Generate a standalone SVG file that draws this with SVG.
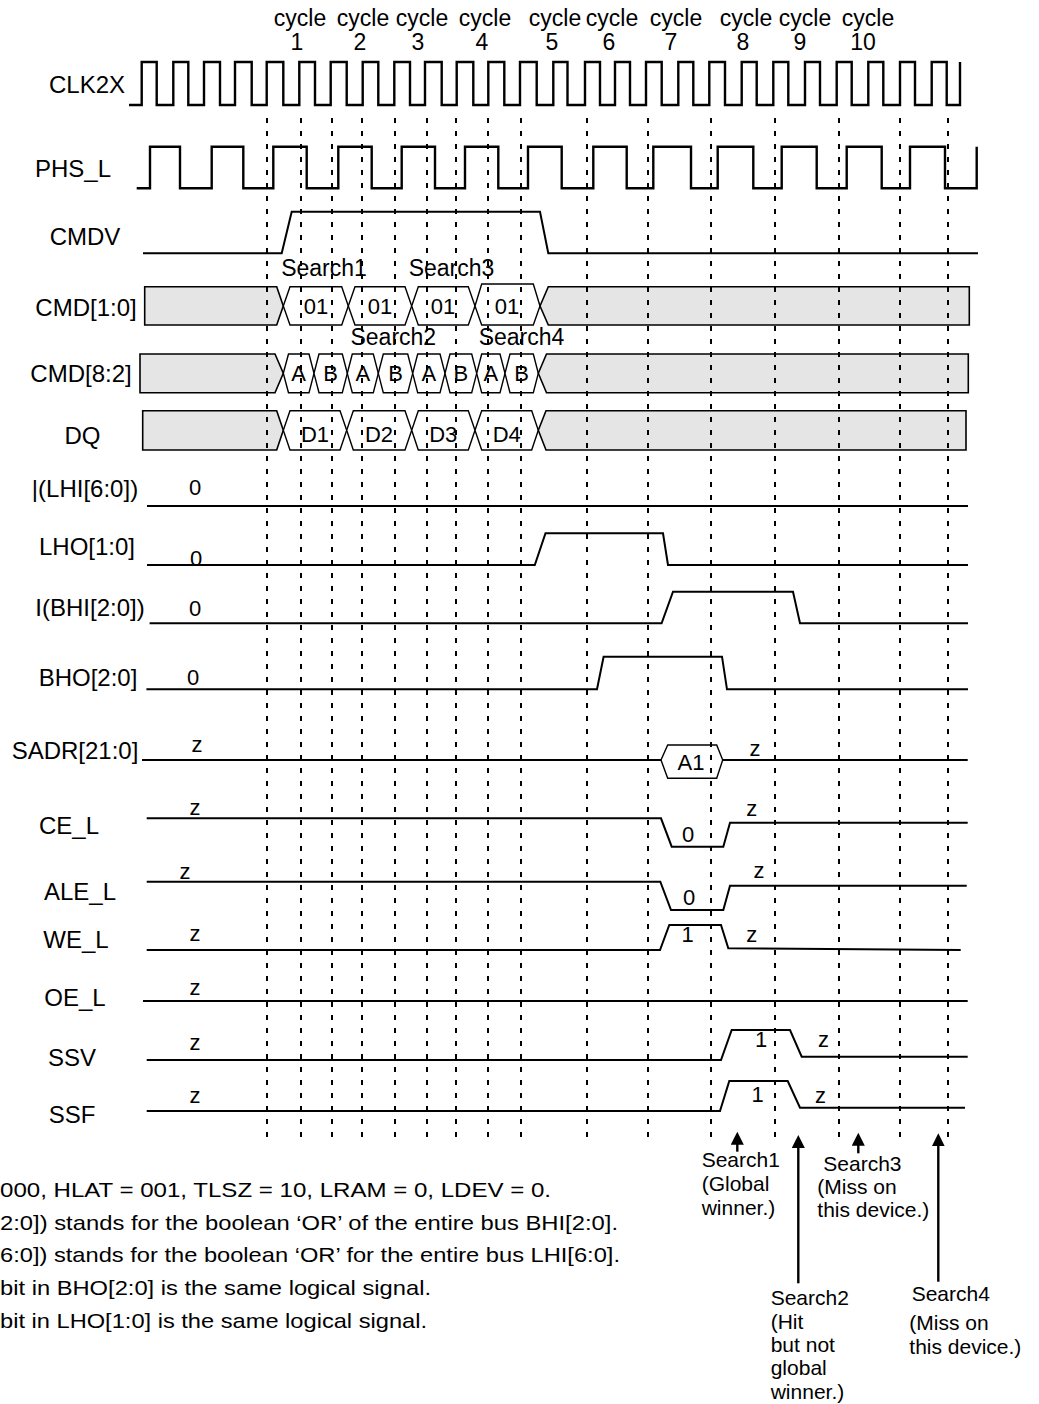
<svg xmlns="http://www.w3.org/2000/svg" width="1039" height="1404" viewBox="0 0 1039 1404">
<style>
text{font-family:"Liberation Sans",Arial,sans-serif;fill:#000}
.lbl{font-size:24px;text-anchor:middle}
.cy{font-size:23px;text-anchor:middle}
.d{font-size:22px;text-anchor:middle}
.an{font-size:21px}
.note{font-size:21px}
.w{fill:none;stroke:#000;stroke-width:2;stroke-linejoin:miter}
.clk{fill:none;stroke:#000;stroke-width:2.4}
.bus{fill:#e5e5e5;stroke:#000;stroke-width:1.6}
.hex{fill:#fff;stroke:#000;stroke-width:1.4}
.dash{stroke:#000;stroke-width:2;stroke-dasharray:5 8;fill:none}
.arr{stroke:#000;stroke-width:2.4;fill:none}
</style>
<defs>
<marker id="ah" markerUnits="userSpaceOnUse" markerWidth="14" markerHeight="14" refX="4" refY="6.5" orient="auto" viewBox="0 0 14 14">
<path d="M0,0 L13,6.5 L0,13 Z" fill="#000"/>
</marker>
</defs>

<g id="cycles">
<text class="cy" x="300" y="26">cycle</text><text class="cy" x="297" y="50">1</text>
<text class="cy" x="363" y="26">cycle</text><text class="cy" x="360" y="50">2</text>
<text class="cy" x="422" y="26">cycle</text><text class="cy" x="418" y="50">3</text>
<text class="cy" x="485" y="26">cycle</text><text class="cy" x="482" y="50">4</text>
<text class="cy" x="555" y="26">cycle</text><text class="cy" x="552" y="50">5</text>
<text class="cy" x="612" y="26">cycle</text><text class="cy" x="609" y="50">6</text>
<text class="cy" x="676" y="26">cycle</text><text class="cy" x="671" y="50">7</text>
<text class="cy" x="746" y="26">cycle</text><text class="cy" x="743" y="50">8</text>
<text class="cy" x="805" y="26">cycle</text><text class="cy" x="800" y="50">9</text>
<text class="cy" x="868" y="26">cycle</text><text class="cy" x="863" y="50">10</text>
</g>

<g id="CLK2X">
<text class="lbl" x="87" y="93">CLK2X</text>
<path class="clk" d="M129,105 H141.7 V62 H156.7 V105 H173.3 V62 H188.3 V105 H204 V62 H220 V105 H235 V62 H251.7 V105 H266.7 V62 H283.3 V105 H299.3 V62 H315 V105 H330.7 V62 H346.7 V105 H362.7 V62 H378.3 V105 H394.3 V62 H410 V105 H425 V62 H441.7 V105 H456.7 V62 H473.3 V105 H488.3 V62 H504.3 V105 H520 V62 H536.7 V105 H553.3 V62 H567.5 V105 H585 V62 H600 V105 H615 V62 H630 V105 H646 V62 H661.7 V105 H678.3 V62 H693.3 V105 H709.3 V62 H725 V105 H741.7 V62 H756.7 V105 H773.3 V62 H788.3 V105 H805 V62 H820 V105 H836.7 V62 H851.7 V105 H868.3 V62 H883.3 V105 H900 V62 H915 V105 H931.7 V62 H946.7 V105 H960 V62"/>
</g>

<g id="PHS_L">
<text class="lbl" x="73" y="177">PHS_L</text>
<path class="clk" d="M136.7,188.3 H150 V146.7 H180 V188.3 H211.7 V146.7 H243.3 V188.3 H273.3 V146.7 H306.7 V188.3 H338.3 V146.7 H371.7 V188.3 H401.7 V146.7 H435 V188.3 H465 V146.7 H498.3 V188.3 H528 V146.7 H561.7 V188.3 H593.3 V146.7 H626.7 V188.3 H653.3 V146.7 H691 V188.3 H717.7 V146.7 H753.3 V188.3 H781.7 V146.7 H816.7 V188.3 H846.7 V146.7 H881.7 V188.3 H910 V146.7 H945 V188.3 H976.7 V146.7"/>
</g>

<g id="CMDV">
<text class="lbl" x="85" y="245">CMDV</text>
<path class="w" d="M143,253.3 H281.7 L291.7,211.7 H540 L548.3,253.3 H978"/>
</g>

<g id="CMD10">
<text class="lbl" x="86" y="316">CMD[1:0]</text>
<polygon class="bus" points="144.7,286.7 276.7,286.7 283.3,306 276.7,325 144.7,325"/>
<polygon class="hex" points="283.3,306 290,286.7 341.7,286.7 348.3,306 341.7,325 290,325"/>
<polygon class="hex" points="348.3,306 355,286.7 405,286.7 411.7,306 405,325 355,325"/>
<polygon class="hex" points="411.7,306 418.3,286.7 468.3,286.7 475,306 468.3,325 418.3,325"/>
<polygon class="hex" points="475,306 481.7,284 533.3,284 540,306 533.3,325 481.7,325"/>
<polygon class="bus" points="540,306 548.3,286.7 969.3,286.7 969.3,325 548.3,325"/>
<text class="d" x="316" y="314">01</text>
<text class="d" x="380" y="314">01</text>
<text class="d" x="443" y="314">01</text>
<text class="d" x="507" y="314">01</text>
<text class="d" x="324" y="276" style="font-size:23px">Search1</text>
<text class="d" x="451.5" y="276" style="font-size:23px">Search3</text>
</g>

<g id="CMD82">
<text class="lbl" x="81" y="382">CMD[8:2]</text>
<polygon class="bus" points="140,354 275,354 283.3,373.3 275,392.7 140,392.7"/>
<polygon class="hex" points="283.3,373.3 288.5,354 309,354 314,373.3 309,392.7 288.5,392.7"/>
<polygon class="hex" points="314,373.3 319,354 342.3,354 347.3,373.3 342.3,392.7 319,392.7"/>
<polygon class="hex" points="347.3,373.3 352.3,354 373.3,354 378.3,373.3 373.3,392.7 352.3,392.7"/>
<polygon class="hex" points="378.3,373.3 383.3,354 407.7,354 412.7,373.3 407.7,392.7 383.3,392.7"/>
<polygon class="hex" points="412.7,373.3 417.7,354 440,354 445,373.3 440,392.7 417.7,392.7"/>
<polygon class="hex" points="445,373.3 450,354 471.7,354 476.7,373.3 471.7,392.7 450,392.7"/>
<polygon class="hex" points="476.7,373.3 481.7,354 500,354 505,373.3 500,392.7 481.7,392.7"/>
<polygon class="hex" points="505,373.3 510,354 533.3,354 538.3,373.3 533.3,392.7 510,392.7"/>
<polygon class="bus" points="538.3,373.3 546.5,354 968.3,354 968.3,392.7 546.5,392.7"/>
<text class="d" x="298.7" y="381">A</text>
<text class="d" x="330.7" y="381">B</text>
<text class="d" x="362.8" y="381">A</text>
<text class="d" x="395.5" y="381">B</text>
<text class="d" x="428.9" y="381">A</text>
<text class="d" x="460.9" y="381">B</text>
<text class="d" x="490.9" y="381">A</text>
<text class="d" x="521.7" y="381">B</text>
<text class="d" x="393.3" y="345" style="font-size:23px">Search2</text>
<text class="d" x="521.5" y="345" style="font-size:23px">Search4</text>
</g>

<g id="DQ">
<text class="lbl" x="82.5" y="444">DQ</text>
<polygon class="bus" points="142.7,410.7 276.7,410.7 283.3,430.3 276.7,450 142.7,450"/>
<polygon class="hex" points="283.3,430.3 290,410.7 340,410.7 346.7,430.3 340,450 290,450"/>
<polygon class="hex" points="346.7,430.3 353.3,410.7 405,410.7 411.7,430.3 405,450 353.3,450"/>
<polygon class="hex" points="411.7,430.3 418.3,410.7 468.3,410.7 475,430.3 468.3,450 418.3,450"/>
<polygon class="hex" points="475,430.3 481.7,410.7 531.7,410.7 538.3,430.3 531.7,450 481.7,450"/>
<polygon class="bus" points="538.3,430.3 546,410.7 966,410.7 966,450 546,450"/>
<text class="d" x="315" y="441.5">D1</text>
<text class="d" x="379" y="441.5">D2</text>
<text class="d" x="443.3" y="441.5">D3</text>
<text class="d" x="506.7" y="441.5">D4</text>
</g>

<g id="LHI">
<text class="lbl" x="85" y="497">|(LHI[6:0])</text>
<text class="d" x="195" y="495">0</text>
<path class="w" stroke-width="2.6" d="M147,506 H968"/>
</g>

<g id="LHO">
<text class="lbl" x="87" y="555">LHO[1:0]</text>
<text class="d" x="196" y="566">0</text>
<path class="w" d="M147,565 H534.8 L545.5,533.3 H663 L668,565 H968"/>
</g>

<g id="BHI">
<text class="lbl" x="90" y="616">I(BHI[2:0])</text>
<text class="d" x="195" y="616">0</text>
<path class="w" d="M149.6,623.3 H661.6 L673,591.7 H793 L800,623.3 H968"/>
</g>

<g id="BHO">
<text class="lbl" x="88" y="686">BHO[2:0]</text>
<text class="d" x="193" y="685">0</text>
<path class="w" d="M146.4,689.3 H597 L603.6,656.7 H722 L727,689.3 H968"/>
</g>

<g id="SADR">
<text class="lbl" x="75" y="759">SADR[21:0]</text>
<text class="d" x="197" y="752">z</text>
<path class="w" stroke-width="2.4" d="M142,760 H661 M722.7,760 H967.7"/>
<polygon class="hex" points="661,760 667.7,745 716.7,745 722.7,760 716.7,778.3 667.7,778.3"/>
<text class="d" x="691" y="770">A1</text>
<text class="d" x="755" y="756">z</text>
</g>

<g id="CE_L">
<text class="lbl" x="69" y="834">CE_L</text>
<text class="d" x="195" y="815">z</text>
<path class="w" d="M146.7,818.3 H661 L671.7,846.7 H723.3 L730,822.7 H967.7"/>
<text class="d" x="688" y="841.7">0</text>
<text class="d" x="751.7" y="816">z</text>
</g>

<g id="ALE_L">
<text class="lbl" x="80" y="900">ALE_L</text>
<text class="d" x="185" y="879">z</text>
<path class="w" d="M146.7,881.7 H660.3 L671,910 H723.3 L730,885.7 H966.7"/>
<text class="d" x="689" y="905">0</text>
<text class="d" x="759" y="878.3">z</text>
</g>

<g id="WE_L">
<text class="lbl" x="76" y="948">WE_L</text>
<text class="d" x="195" y="941">z</text>
<path class="w" d="M146.7,950 H660 L669.3,925 H721 L728.3,948.3 L960.7,950"/>
<text class="d" x="687.5" y="941.7">1</text>
<text class="d" x="751.7" y="941.7">z</text>
</g>

<g id="OE_L">
<text class="lbl" x="75" y="1006">OE_L</text>
<text class="d" x="195" y="995">z</text>
<path class="w" stroke-width="2.4" d="M143,1001 H967.7"/>
</g>

<g id="SSV">
<text class="lbl" x="72" y="1066">SSV</text>
<text class="d" x="195" y="1050">z</text>
<path class="w" d="M146.7,1060 H721 L731.7,1030 H790 L801.7,1056.7 H967.7"/>
<text class="d" x="761" y="1046.7">1</text>
<text class="d" x="823.5" y="1046.7">z</text>
</g>

<g id="SSF">
<text class="lbl" x="72" y="1123">SSF</text>
<text class="d" x="195" y="1103">z</text>
<path class="w" d="M146.7,1111 H720 L729.3,1081 H787.7 L800,1107.7 H965"/>
<text class="d" x="757.5" y="1101.7">1</text>
<text class="d" x="820.5" y="1103">z</text>
</g>

<g id="gridlines">
<path class="dash" d="M267,118 V1142 M301,118 V1142 M332,118 V1142 M362,118 V1142 M395,118 V1142 M427,118 V1142 M456,118 V1142 M488,118 V1142 M521,118 V1142 M587,118 V1142 M648,118 V1142 M711,118 V1142 M775,118 V1142 M839,118 V1142 M900,118 V1142 M948,118 V1142"/>
</g>

<g id="connectors">
<path class="arr" marker-end="url(#ah)" d="M737.3,1151.7 V1140.7"/>
<path class="arr" marker-end="url(#ah)" d="M798.3,1283.3 V1144"/>
<path class="arr" marker-end="url(#ah)" d="M858.3,1153.3 V1141.7"/>
<path class="arr" marker-end="url(#ah)" d="M938.3,1281.7 V1142.3"/>
</g>

<g id="annotations">
<text class="an" x="701.7" y="1167">Search1</text>
<text class="an" x="701.7" y="1191">(Global</text>
<text class="an" x="701.7" y="1215">winner.)</text>
<text class="an" x="823.3" y="1171">Search3</text>
<text class="an" x="817.3" y="1194">(Miss on</text>
<text class="an" x="817.3" y="1217">this device.)</text>
<text class="an" x="770.7" y="1305">Search2</text>
<text class="an" x="770.7" y="1328.5">(Hit</text>
<text class="an" x="770.7" y="1352">but not</text>
<text class="an" x="770.7" y="1375">global</text>
<text class="an" x="770.7" y="1398.5">winner.)</text>
<text class="an" x="911.7" y="1301">Search4</text>
<text class="an" x="909.3" y="1330">(Miss on</text>
<text class="an" x="909.3" y="1353.5">this device.)</text>
</g>

<g id="notes">
<text class="note" x="0" y="1197" textLength="551" lengthAdjust="spacingAndGlyphs">000, HLAT = 001, TLSZ = 10, LRAM = 0, LDEV = 0.</text>
<text class="note" x="0" y="1230" textLength="618" lengthAdjust="spacingAndGlyphs">2:0]) stands for the boolean ‘OR’ of the entire bus BHI[2:0].</text>
<text class="note" x="0" y="1262" textLength="620" lengthAdjust="spacingAndGlyphs">6:0]) stands for the boolean ‘OR’ for the entire bus LHI[6:0].</text>
<text class="note" x="0" y="1295" textLength="431" lengthAdjust="spacingAndGlyphs">bit in BHO[2:0] is the same logical signal.</text>
<text class="note" x="0" y="1328" textLength="427" lengthAdjust="spacingAndGlyphs">bit in LHO[1:0] is the same logical signal.</text>
</g>
</svg>
